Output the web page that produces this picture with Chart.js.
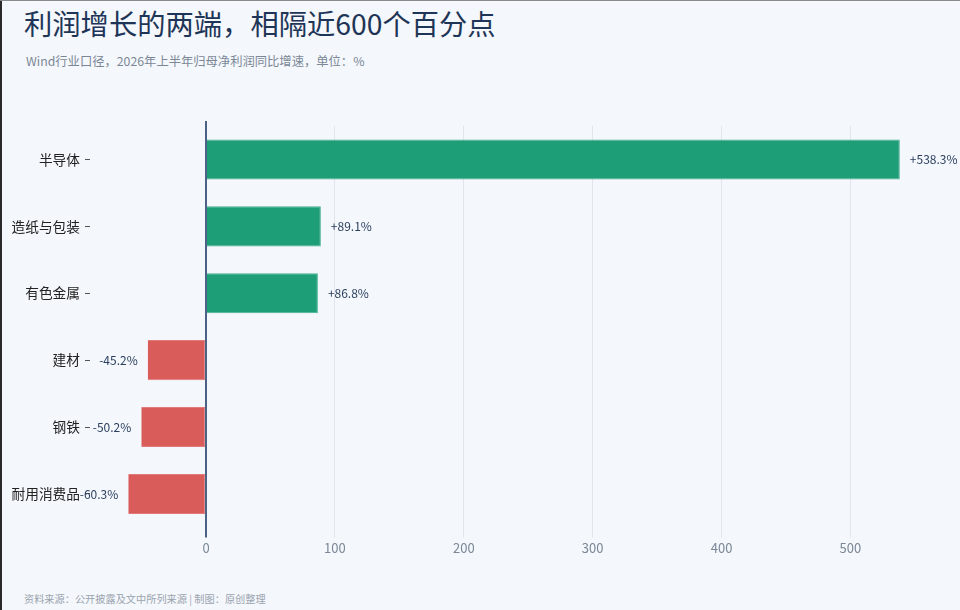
<!DOCTYPE html>
<html>
<head>
<meta charset="utf-8">
<script src="https://cdn.jsdelivr.net/npm/chart.js@4"></script>
<style>
  html, body { margin: 0; padding: 0; }
  body {
    width: 960px; height: 610px; overflow: hidden; position: relative;
    background: #f4f7fb;
    font-family: "Noto Sans CJK SC", "Noto Sans", sans-serif;
  }
  #edgeLeft { position: absolute; left: 0; top: 0; width: 2px; height: 610px; background: #2a2a2a; }
  #edgeTop { position: absolute; left: 0; top: 0; width: 960px; height: 1px; background: #8a8a8a; }
  #title { position: absolute; left: 24px; top: 2px; font-size: 28.3px; color: #1e3557; font-weight: 400; white-space: nowrap; }
  #subtitle { position: absolute; left: 26px; top: 52px; font-size: 12.3px; color: #7b8797; white-space: nowrap; }
  #footer { position: absolute; left: 24px; top: 591px; font-size: 10.2px; color: #9aa3af; white-space: nowrap; }
  #wrap { position: absolute; left: 0; top: 101px; width: 960px; height: 460px; }
</style>
</head>
<body>
<div id="edgeLeft"></div>
<div id="edgeTop"></div>
<div id="title">利润增长的两端，相隔近600个百分点</div>
<div id="subtitle">Wind行业口径，2026年上半年归母净利润同比增速，单位：%</div>
<div id="wrap"><canvas id="chart"></canvas></div>
<div id="footer">资料来源：公开披露及文中所列来源 | 制图：原创整理</div>
<script>
const categories = ["半导体", "造纸与包装", "有色金属", "建材", "钢铁", "耐用消费品"];
const growth = [538.3, 89.1, 86.8, -45.2, -50.2, -60.3];
const xTicks = [0, 100, 200, 300, 400, 500];

const GREEN = "#1d9e77";
const RED = "#d95b5a";

// zero line on top of the bars, plus the value labels at the bar ends
const barExtras = {
  id: "barExtras",
  afterDatasetsDraw(chart) {
    const ctx = chart.ctx;
    const area = chart.chartArea;
    const x0 = Math.round(chart.scales.x.getPixelForValue(0));
    ctx.save();
    ctx.strokeStyle = "#4b6283";
    ctx.lineWidth = 2;
    ctx.beginPath();
    ctx.moveTo(x0, area.top - 5);
    ctx.lineTo(x0, area.bottom + 10);
    ctx.stroke();

    const meta = chart.getDatasetMeta(0);
    ctx.font = "12px 'Noto Sans CJK SC', sans-serif";
    ctx.fillStyle = "#2a3f5f";
    ctx.textBaseline = "middle";
    meta.data.forEach((bar, i) => {
      const v = growth[i];
      const txt = (v > 0 ? "+" : "") + v.toFixed(1) + "%";
      if (v >= 0) {
        ctx.textAlign = "left";
        ctx.fillText(txt, bar.x + 10, bar.y);
      } else {
        ctx.textAlign = "right";
        ctx.fillText(txt, bar.x - 10, bar.y);
      }
    });
    ctx.restore();
  }
};

new Chart(document.getElementById("chart").getContext("2d"), {
  type: "bar",
  data: {
    labels: categories,
    datasets: [{
      data: growth,
      backgroundColor: growth.map(v => v >= 0 ? GREEN : RED),
      borderColor: growth.map(v => v >= 0 ? "#46b08f" : "#e07b7a"),
      borderWidth: { top: 1, bottom: 1, left: 0, right: 1 },
      borderSkipped: false,
      categoryPercentage: 1,
      barPercentage: 0.6
    }]
  },
  options: {
    indexAxis: "y",
    responsive: true,
    maintainAspectRatio: false,
    animation: false,
    layout: { padding: { left: 10, right: 0, top: 25, bottom: 2 } },
    plugins: {
      legend: { display: false },
      tooltip: { enabled: false }
    },
    scales: {
      x: {
        min: -90,
        max: 585,
        afterBuildTicks(scale) {
          scale.ticks = xTicks.map(v => ({ value: v }));
        },
        border: { display: false },
        grid: {
          color: ctx => (ctx.tick && ctx.tick.value === 0) ? "rgba(0,0,0,0)" : "#e1e6ee",
          tickLength: 10
        },
        ticks: {
          color: "#7b8797",
          font: { size: 13, family: "'Noto Sans CJK SC', sans-serif" },
          padding: 3
        }
      },
      y: {
        afterFit(scale) { scale.width = 80; },
        border: { display: false },
        grid: {
          offset: false,
          drawOnChartArea: false,
          color: "#555",
          tickLength: 5
        },
        ticks: {
          color: "#222",
          font: { size: 13.7, family: "'Noto Sans CJK SC', sans-serif" },
          padding: 5
        }
      }
    }
  },
  plugins: [barExtras]
});
</script>
</body>
</html>
